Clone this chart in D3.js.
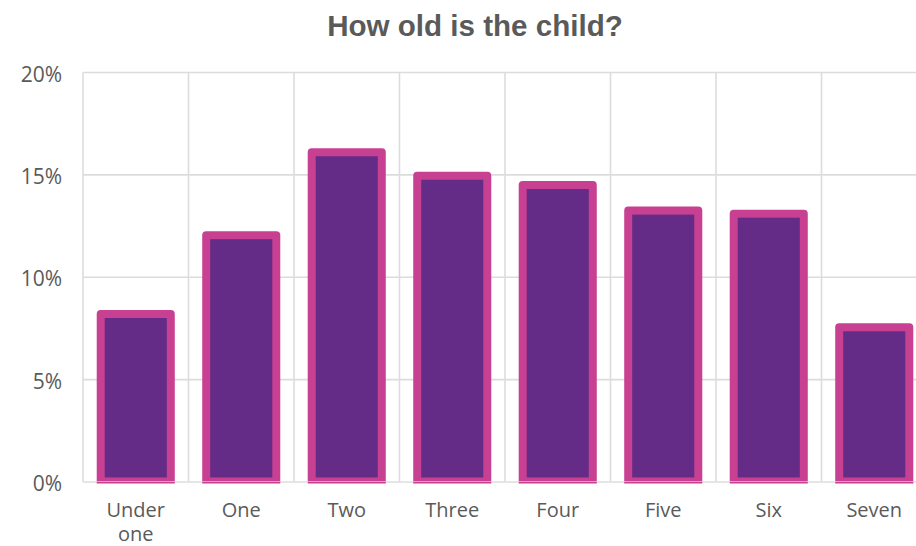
<!DOCTYPE html>
<html>
<head>
<meta charset="utf-8">
<script src="https://cdn.jsdelivr.net/npm/d3@7"></script>
<style>
  html, body { margin: 0; padding: 0; background: #ffffff; overflow: hidden; }
  svg { display: block; }
</style>
</head>
<body>
<div id="chart"></div>
<script>
// Survey answers: age of the child, share of respondents (%)
const categories = [["Under", "one"], ["One"], ["Two"], ["Three"], ["Four"], ["Five"], ["Six"], ["Seven"]];
const shares = [8.4, 12.25, 16.3, 15.15, 14.7, 13.45, 13.3, 7.75];
const yTicks = [0, 5, 10, 15, 20];
const title = "How old is the child?";

const width = 916, height = 546;
const margin = { top: 72.5, left: 83, bottom: 64 };
const step = 105.5;
const plotRight = margin.left + step * categories.length; // runs past the right edge

const svg = d3.select("#chart").append("svg")
  .attr("width", width)
  .attr("height", height);

const x = d3.scaleBand()
  .domain(d3.range(categories.length))
  .range([margin.left, plotRight])
  .padding(0);

const y = d3.scaleLinear()
  .domain([0, 20])
  .range([482, margin.top]);

const gridColor = "#dcdcdc";
const textColor = "#5a5a5a";

// Title
svg.append("text")
  .attr("transform", `translate(475,36) scale(1.02,1)`)
  .attr("text-anchor", "middle")
  .attr("font-family", "'Liberation Sans', Arial, sans-serif")
  .attr("font-weight", "bold")
  .attr("font-size", 29)
  .attr("fill", textColor)
  .text(title);

// Horizontal gridlines
svg.append("g")
  .selectAll("line")
  .data(yTicks)
  .join("line")
  .attr("x1", margin.left)
  .attr("x2", plotRight)
  .attr("y1", d => y(d))
  .attr("y2", d => y(d))
  .attr("stroke", gridColor)
  .attr("stroke-width", 1.6);

// Vertical gridlines at category boundaries
svg.append("g")
  .selectAll("line")
  .data(d3.range(categories.length + 1))
  .join("line")
  .attr("x1", i => i < categories.length ? x(i) : plotRight)
  .attr("x2", i => i < categories.length ? x(i) : plotRight)
  .attr("y1", y(20))
  .attr("y2", y(0))
  .attr("stroke", gridColor)
  .attr("stroke-width", 1.6);

// Y tick labels
svg.append("g")
  .selectAll("text")
  .data(yTicks)
  .join("text")
  .attr("x", 62)
  .attr("y", d => y(d) + 1)
  .attr("text-anchor", "end")
  .attr("dominant-baseline", "central")
  .attr("font-family", "'Open Sans', sans-serif")
  .attr("font-size", 21)
  .attr("fill", textColor)
  .text(d => d + "%");

// Bars: pink frame with purple fill, clipped at the baseline
svg.append("clipPath").attr("id", "plotClip")
  .append("rect")
  .attr("x", margin.left)
  .attr("y", 0)
  .attr("width", plotRight - margin.left)
  .attr("height", y(0) + 1.5);

const barW = x.bandwidth() * 0.74;
const border = 8;
const bars = svg.append("g").attr("clip-path", "url(#plotClip)")
  .selectAll("g")
  .data(shares)
  .join("g");

bars.append("rect")
  .attr("x", (d, i) => x(i) + (x.bandwidth() - barW) / 2)
  .attr("y", d => y(d))
  .attr("width", barW)
  .attr("height", d => y(0) - y(d) + 6)
  .attr("rx", 4)
  .attr("fill", "#c84092");

bars.append("rect")
  .attr("x", (d, i) => x(i) + (x.bandwidth() - barW) / 2 + border)
  .attr("y", d => y(d) + border)
  .attr("width", barW - 2 * border)
  .attr("height", d => Math.max(0, y(0) - y(d) - border - 4.5))
  .attr("fill", "#642c87");

// Faint baseline drawn over the bar bottoms
svg.append("line")
  .attr("x1", margin.left)
  .attr("x2", plotRight)
  .attr("y1", y(0) - 0.5)
  .attr("y2", y(0) - 0.5)
  .attr("stroke", "#e6e6e6")
  .attr("stroke-opacity", 0.6)
  .attr("stroke-width", 1.2);

// Category labels
const labels = svg.append("g")
  .selectAll("text")
  .data(categories)
  .join("text")
  .attr("x", (d, i) => x(i) + x.bandwidth() / 2)
  .attr("y", 517)
  .attr("text-anchor", "middle")
  .attr("font-family", "'Open Sans', sans-serif")
  .attr("font-size", 20)
  .attr("fill", textColor);

labels.selectAll("tspan")
  .data(d => d)
  .join("tspan")
  .attr("x", function () { return d3.select(this.parentNode).attr("x"); })
  .attr("dy", (d, j) => j === 0 ? 0 : 24)
  .text(d => d);
</script>
</body>
</html>
